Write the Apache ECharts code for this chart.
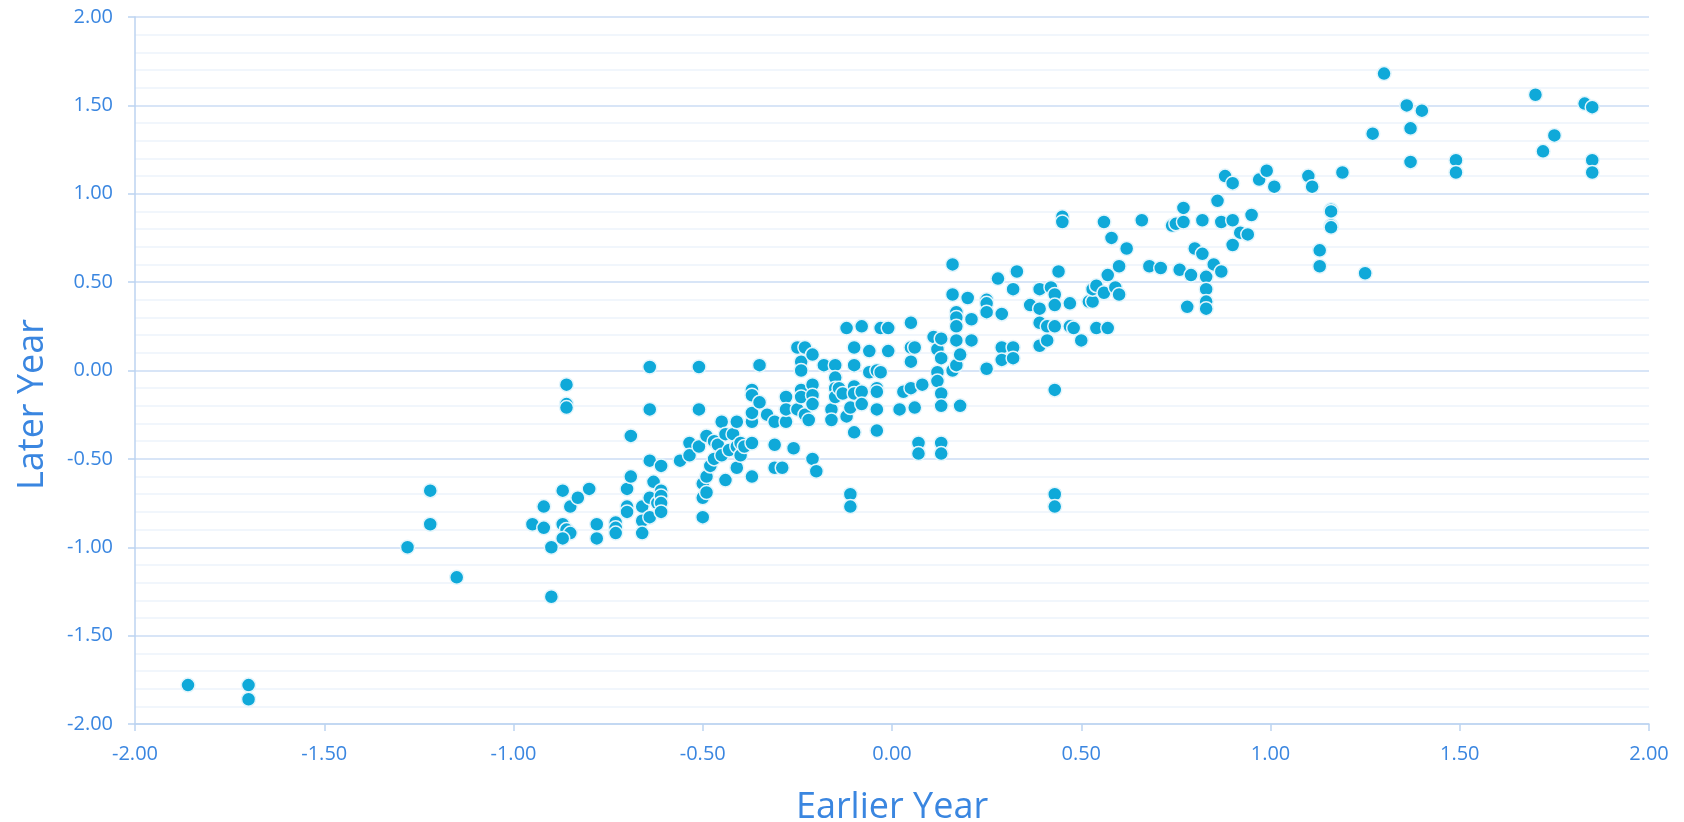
<!DOCTYPE html>
<html>
<head>
<meta charset="utf-8">
<script src="https://cdn.jsdelivr.net/npm/echarts@6/dist/echarts.min.js"></script>
<style>
html,body{margin:0;padding:0;background:#fff;}
#chart{width:1684px;height:822px;}
</style>
</head>
<body>
<div id="chart"></div>
<script>
var xAxisTitle = 'Earlier Year';
var yAxisTitle = 'Later Year';
var axisMin = -2, axisMax = 2, axisStep = 0.5;

var earlierYear = [
-1.86,-1.70,-1.70,-1.28,-1.22,-1.22,-1.15,-0.95,-0.92,-0.92,
-0.90,-0.90,-0.87,-0.87,-0.86,-0.85,-0.87,-0.86,-0.86,-0.86,
-0.85,-0.83,-0.80,-0.78,-0.78,-0.73,-0.73,-0.73,-0.70,-0.70,
-0.70,-0.69,-0.69,-0.66,-0.66,-0.66,-0.64,-0.64,-0.64,-0.64,
-0.64,-0.63,-0.62,-0.61,-0.61,-0.61,-0.61,-0.61,-0.56,-0.535,
-0.535,-0.51,-0.51,-0.51,-0.50,-0.50,-0.50,-0.49,-0.49,-0.48,
-0.49,-0.47,-0.47,-0.46,-0.45,-0.45,-0.44,-0.44,-0.43,-0.42,
-0.41,-0.41,-0.41,-0.40,-0.40,-0.39,-0.37,-0.37,-0.37,-0.37,
-0.37,-0.37,-0.35,-0.35,-0.33,-0.31,-0.31,-0.31,-0.28,-0.28,
-0.28,-0.29,-0.26,-0.25,-0.25,-0.24,-0.24,-0.24,-0.24,-0.23,
-0.23,-0.22,-0.21,-0.21,-0.21,-0.21,-0.20,-0.21,-0.18,-0.15,
-0.16,-0.16,-0.15,-0.15,-0.15,-0.14,-0.13,-0.12,-0.12,-0.11,
-0.11,-0.11,-0.10,-0.10,-0.10,-0.10,-0.10,-0.08,-0.08,-0.08,
-0.06,-0.06,-0.04,-0.04,-0.04,-0.04,-0.04,-0.03,-0.03,-0.01,
-0.01,0.02,0.03,0.05,0.05,0.06,0.05,0.05,0.06,0.07,
0.07,0.08,0.11,0.12,0.13,0.12,0.12,0.13,0.13,0.13,
0.13,0.13,0.16,0.16,0.16,0.17,0.17,0.17,0.17,0.17,
0.18,0.18,0.20,0.21,0.21,0.25,0.25,0.25,0.25,0.28,
0.29,0.29,0.29,0.32,0.32,0.32,0.33,0.365,0.39,0.39,
0.39,0.39,0.41,0.41,0.42,0.43,0.43,0.43,0.43,0.43,
0.43,0.44,0.45,0.45,0.47,0.47,0.48,0.50,0.52,0.53,
0.53,0.54,0.54,0.56,0.56,0.57,0.57,0.59,0.60,0.58,
0.60,0.62,0.66,0.68,0.71,0.74,0.75,0.76,0.77,0.77,
0.78,0.79,0.80,0.82,0.82,0.83,0.83,0.83,0.83,0.85,
0.86,0.87,0.87,0.88,0.90,0.90,0.90,0.92,0.94,0.95,
0.97,0.99,1.01,1.10,1.11,1.13,1.13,1.16,1.16,1.16,
1.16,1.19,1.25,1.27,1.30,1.36,1.37,1.37,1.40,1.49,
1.49,1.70,1.72,1.75,1.83,1.85,1.85,1.85
];

var laterYear = [
-1.78,-1.78,-1.86,-1.00,-0.68,-0.87,-1.17,-0.87,-0.89,-0.77,
-1.00,-1.28,-0.68,-0.87,-0.90,-0.92,-0.95,-0.08,-0.19,-0.21,
-0.77,-0.72,-0.67,-0.87,-0.95,-0.86,-0.89,-0.92,-0.67,-0.77,
-0.80,-0.60,-0.37,-0.77,-0.85,-0.92,0.02,-0.22,-0.51,-0.72,
-0.83,-0.63,-0.75,-0.68,-0.71,-0.75,-0.80,-0.54,-0.51,-0.41,
-0.48,0.02,-0.22,-0.43,-0.64,-0.72,-0.83,-0.69,-0.60,-0.54,
-0.37,-0.50,-0.40,-0.42,-0.48,-0.29,-0.36,-0.62,-0.45,-0.36,
-0.29,-0.55,-0.43,-0.48,-0.41,-0.43,-0.29,-0.11,-0.14,-0.24,
-0.41,-0.60,-0.18,0.03,-0.25,-0.29,-0.42,-0.55,-0.29,-0.15,
-0.22,-0.55,-0.44,0.13,-0.22,0.05,0.00,-0.11,-0.15,0.13,
-0.25,-0.28,-0.08,-0.14,-0.19,-0.50,-0.57,0.09,0.03,0.03,
-0.22,-0.28,-0.04,-0.10,-0.15,-0.10,-0.13,0.24,-0.26,-0.21,
-0.70,-0.77,0.13,0.03,-0.09,-0.13,-0.35,0.25,-0.12,-0.19,
0.11,-0.01,0.00,-0.10,-0.12,-0.22,-0.34,0.24,-0.01,0.11,
0.24,-0.22,-0.12,0.27,0.13,0.13,0.05,-0.10,-0.21,-0.41,
-0.47,-0.08,0.19,0.12,0.07,-0.01,-0.06,0.18,-0.13,-0.20,
-0.41,-0.47,0.60,0.43,0.00,0.33,0.30,0.25,0.17,0.03,
0.09,-0.20,0.41,0.29,0.17,0.40,0.38,0.33,0.01,0.52,
0.32,0.13,0.06,0.46,0.13,0.07,0.56,0.37,0.46,0.35,
0.27,0.14,0.25,0.17,0.47,0.43,0.37,0.25,-0.11,-0.70,
-0.77,0.56,0.87,0.84,0.38,0.25,0.24,0.17,0.39,0.39,
0.46,0.48,0.24,0.84,0.44,0.24,0.54,0.47,0.43,0.75,
0.59,0.69,0.85,0.59,0.58,0.82,0.83,0.57,0.92,0.84,
0.36,0.54,0.69,0.66,0.85,0.53,0.46,0.39,0.35,0.60,
0.96,0.84,0.56,1.10,0.71,0.85,1.06,0.78,0.77,0.88,
1.08,1.13,1.04,1.10,1.04,0.68,0.59,0.91,0.90,0.82,
0.81,1.12,0.55,1.34,1.68,1.50,1.37,1.18,1.47,1.19,
1.12,1.56,1.24,1.33,1.51,1.49,1.19,1.12
];

var points = earlierYear.map(function (x, i) { return [x, laterYear[i]]; });

var textColor = '#3a86e0';
var axisColor = '#bcd3f1';
var fontFamily = '"Open Sans", "DejaVu Sans", sans-serif';

var chart = echarts.init(document.getElementById('chart'), null, {renderer: 'canvas'});
chart.setOption({
  animation: false,
  backgroundColor: '#ffffff',
  grid: { left: 135, right: 35, top: 17, bottom: 98, containLabel: false, outerBoundsMode: 'none' },
  xAxis: {
    type: 'value', min: axisMin, max: axisMax, interval: axisStep,
    name: xAxisTitle, nameLocation: 'middle', nameGap: 66,
    nameTextStyle: { color: textColor, fontSize: 36, fontFamily: fontFamily },
    axisLine: { show: true, onZero: false, lineStyle: { color: axisColor, width: 1.5 } },
    axisTick: { show: true, inside: false, length: 7, lineStyle: { color: axisColor, width: 1.5 } },
    axisLabel: { color: textColor, fontSize: 20, fontFamily: fontFamily, margin: 20,
      formatter: function (v) { return v.toFixed(2); } },
    splitLine: { show: false }
  },
  yAxis: {
    type: 'value', min: axisMin, max: axisMax, interval: axisStep,
    name: yAxisTitle, nameLocation: 'middle', nameGap: 84, nameRotate: 90,
    nameTextStyle: { color: textColor, fontSize: 36, fontFamily: fontFamily, padding: [0, 68, 0, 0] },
    axisLine: { show: true, onZero: false, lineStyle: { color: axisColor, width: 1.5 } },
    axisTick: { show: true, inside: false, length: 7, lineStyle: { color: axisColor, width: 1.5 } },
    axisLabel: { color: textColor, fontSize: 20, fontFamily: fontFamily, margin: 22,
      formatter: function (v) { return v.toFixed(2); } },
    splitLine: { show: true, lineStyle: { color: '#cbddf5', width: 1.5 } },
    minorTick: { show: false, splitNumber: 5 },
    minorSplitLine: { show: true, lineStyle: { color: '#edf3fc', width: 1.5 } }
  },
  series: [{
    type: 'scatter',
    data: points,
    symbol: 'circle',
    symbolSize: 14,
    itemStyle: { color: '#0fa9d9', borderColor: '#e3f5fc', borderWidth: 1.5, opacity: 1 }
  }]
});
</script>
</body>
</html>
